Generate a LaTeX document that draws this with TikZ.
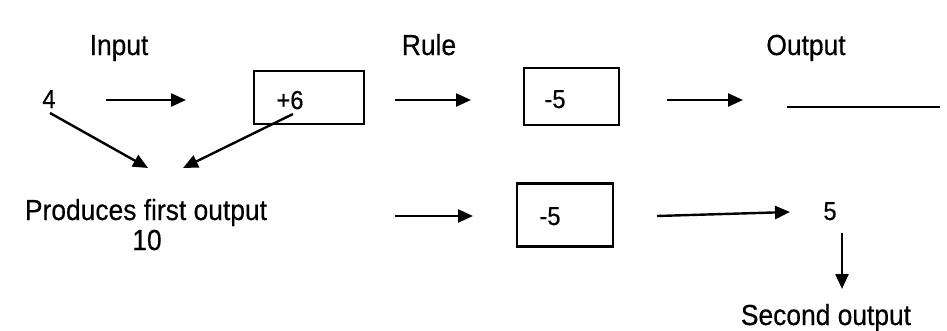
\documentclass[tikz,border=0pt]{standalone}
\usepackage{fontspec}
\setmainfont{Liberation Sans}[FakeStretch=0.91,FakeBold=0.4]
\usetikzlibrary{arrows.meta}
\begin{document}
\begin{tikzpicture}[x=1pt,y=-1pt,
  lbl/.style={inner sep=0pt,anchor=base,font=\fontsize{29}{33}\selectfont},
  num/.style={inner sep=0pt,anchor=base,font=\fontsize{26}{30}\selectfont},
  rulebox/.style={draw,line width=2.2pt,inner sep=0pt},
  arr/.style={line width=2.4pt,-{Triangle[length=15pt,width=13pt]}},
  plain/.style={line width=2.2pt}]
\useasboundingbox[fill=white] (0,0) rectangle (947,330);
% labels
\node[lbl] (in) at (119,55) {Input};
\node[lbl] (rule) at (429,55) {Rule};
\node[lbl] (out) at (806,55) {Output};
% top row
\node[num] (four) at (49,108) {4};
\coordinate (a1s) at (106,100);
\coordinate (a1e) at (186,100);
\draw[arr] (a1s) -- (a1e);
\node[rulebox,minimum width=110pt,minimum height=53pt] (b1) at (309,97.5) {};
\node[num] (p6) at (290,109) {+6};
\coordinate (a2s) at (395,100);
\coordinate (a2e) at (471,100);
\draw[arr] (a2s) -- (a2e);
\node[rulebox,minimum width=95pt,minimum height=57pt] (b2) at (571.5,96.5) {};
\node[num] (m5a) at (555,108) {-5};
\coordinate (a3s) at (667,100);
\coordinate (a3e) at (743,100);
\draw[arr] (a3s) -- (a3e);
\coordinate (ls) at (787,107);
\coordinate (le) at (940,107);
\draw[plain] (ls) -- (le);
% diagonals
\coordinate (d1s) at (50,113);
\coordinate (d1e) at (148,168);
\draw[arr] (d1s) -- (d1e);
\coordinate (d2s) at (293,114);
\coordinate (d2e) at (183,168);
\draw[arr] (d2s) -- (d2e);
\node[lbl] (prod) at (146,220) {Produces first output};
\node[lbl] (ten) at (147,250) {10};
% bottom row
\coordinate (a4s) at (395,216);
\coordinate (a4e) at (473,216);
\draw[arr] (a4s) -- (a4e);
\node[rulebox,minimum width=96pt,minimum height=63pt] (b3) at (565,215) {};
\node[num] (m5b) at (550,225) {-5};
\coordinate (a5s) at (657,216);
\coordinate (a5e) at (790,212);
\draw[arr] (a5s) -- (a5e);
\node[num] (five) at (830,220) {5};
\coordinate (a6s) at (842,233);
\coordinate (a6e) at (842,289);
\draw[arr] (a6s) -- (a6e);
\node[lbl] (sec) at (826,325) {Second output};
\end{tikzpicture}
\end{document}
